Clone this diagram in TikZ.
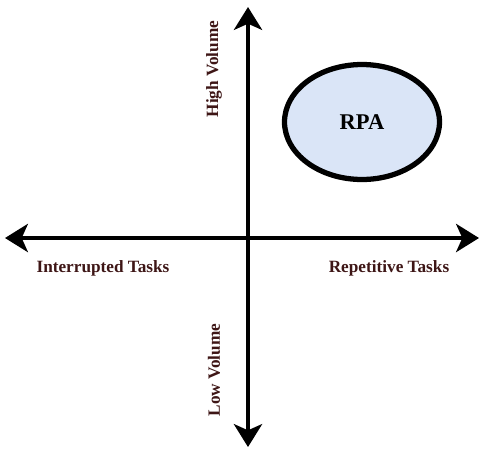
\documentclass[tikz,border=0pt]{standalone}
\usepackage{fontspec}
\setmainfont{Liberation Serif}
\usetikzlibrary{arrows.meta,shapes.geometric}
\definecolor{labelbrown}{HTML}{3E1616}
\definecolor{rpablue}{HTML}{DAE5F7}
\tikzset{
	axis/.style={line width=2.6pt,-{Stealth[length=13pt,width=16pt,inset=3.5pt]}},
	axislabel/.style={text=labelbrown,font=\fontsize{9.8}{11}\selectfont\bfseries},
}
\begin{document}
\begin{tikzpicture}[x=0.02cm,y=-0.02cm]
	\useasboundingbox (0,0) rectangle (480,451);
	\coordinate (o) at (248,238);
	\coordinate (top) at (248,7);
	\coordinate (bottom) at (248,447);
	\coordinate (left) at (5,238);
	\coordinate (right) at (479,238);
	\draw[axis] (o) -- (top);
	\draw[axis] (o) -- (bottom);
	\draw[axis] (o) -- (left);
	\draw[axis] (o) -- (right);
	\node[ellipse,draw,line width=3pt,fill=rpablue,minimum width=3.1cm,
		minimum height=2.3cm,inner sep=0pt,font=\fontsize{12.8}{14}\selectfont\bfseries] (rpa) at (362,122) {RPA};
	\node[axislabel] (interrupted) at (103,268) {Interrupted Tasks};
	\node[axislabel] (repetitive) at (389,268) {Repetitive Tasks};
	\node[axislabel,rotate=90] (high) at (214,69) {High Volume};
	\node[axislabel,rotate=90] (low) at (214,370) {Low Volume};
\end{tikzpicture}
\end{document}
